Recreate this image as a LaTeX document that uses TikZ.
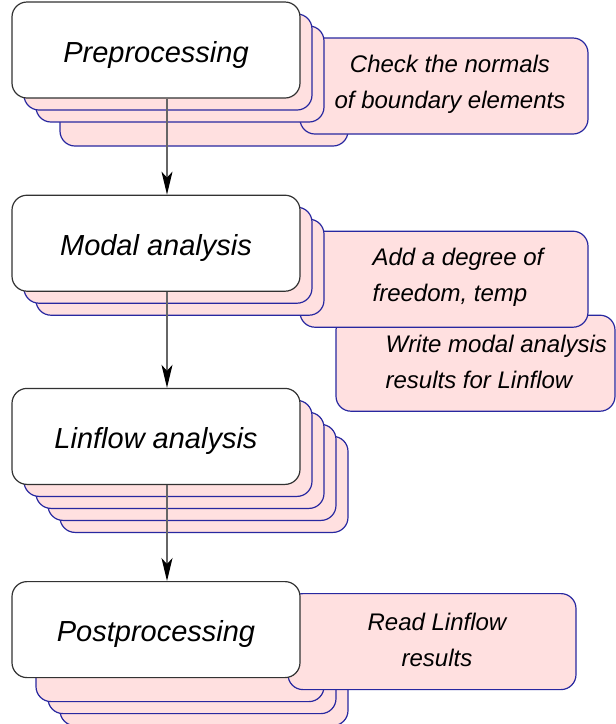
\documentclass[tikz,border=0pt]{standalone}
\usepackage{fontspec}
\setmainfont{Liberation Sans}
\usetikzlibrary{arrows.meta,positioning,backgrounds}
\definecolor{notepink}{RGB}{255,224,224}
\definecolor{noteblue}{RGB}{40,40,160}
\definecolor{stagegray}{RGB}{50,50,50}
\tikzset{
     stage/.style = {draw=stagegray, fill=white, rounded corners=15pt, line width=1.2pt,
        minimum width=288pt, minimum height=96pt, inner sep=0pt,
        text height=30pt, text depth=6pt,
        font=\fontsize{29}{34}\selectfont\itshape},
     layer/.style = {draw=noteblue, fill=notepink, rounded corners=15pt, line width=1.2pt,
        minimum width=288pt, minimum height=96pt, inner sep=0pt},
     note text/.style = {inner sep=0pt, font=\fontsize{24}{36}\selectfont\itshape},
     flow/.style = {draw=gray!80!black, line width=1.2pt,
        -{Stealth[black, length=23pt, width=11pt, inset=6pt]}},
    }

\begin{document}
\begin{tikzpicture}[x=1pt, y=-1pt]
    \useasboundingbox (0,0) rectangle (616,724);

    % the four stages
    \node [stage] (pre) at (156,50)         {Preprocessing};
    \node [stage] (modal) [below=96pt of pre]     {Modal analysis};
    \node [stage] (linflow) [below=96pt of modal] {Linflow analysis};
    \node [stage] (post) [below=96pt of linflow]  {Postprocessing};

    % stacked sheets and notes behind them
    \begin{scope}[on background layer]
        \node [layer] (pre-48) at ([shift={(48,48)}]pre) {};
        \node [layer] (check) at ([shift={(288,36)}]pre) {};
        \foreach \d in {24,12}
            \node [layer] (pre-\d) at ([shift={(\d,\d)}]pre) {};

        \node [layer, minimum width=279pt] (write) at ([shift={(319.5,120)}]modal) {};
        \node [layer] (add) at ([shift={(288,36)}]modal) {};
        \foreach \d in {24,12}
            \node [layer] (modal-\d) at ([shift={(\d,\d)}]modal) {};

        \foreach \d in {48,36,24,12}
            \node [layer] (linflow-\d) at ([shift={(\d,\d)}]linflow) {};

        \foreach \d in {48,36,24}
            \node [layer] (post-\d) at ([shift={(\d,\d)}]post) {};
        \node [layer] (read) at ([shift={(276,12)}]post) {};
    \end{scope}

    \node [note text, align=center] (check text) at ([shift={(6,-2)}]check)
        {Check the normals\\of boundary elements};
    \node [note text, align=left, anchor=west] (add text) at ([shift={(73,-2)}]add.west)
        {Add a degree of\\freedom, temp};
    \node [note text, align=left, anchor=west] (write text) at ([shift={(50,-1)}]write.west)
        {Write modal analysis\\results for Linflow};
    \node [note text, align=center] (read text) at ([shift={(5,-2)}]read)
        {Read Linflow\\results};

    \foreach \a/\b in {pre/modal, modal/linflow, linflow/post}
        \draw [flow] ([xshift=11pt]\a.south) -- ([xshift=11pt]\b.north);
\end{tikzpicture}
\end{document}
